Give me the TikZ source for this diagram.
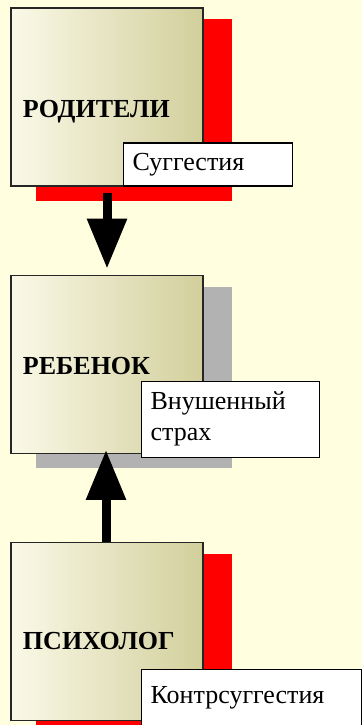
\documentclass[tikz,border=0pt]{standalone}
\usepackage{fontspec}
\setmainfont{Liberation Serif}
\usepackage{tikz}
\usetikzlibrary{calc}
\usetikzlibrary{positioning}
\usetikzlibrary{arrows.meta}
\usetikzlibrary{backgrounds}

\definecolor{paper}{RGB}{255,255,224}
\definecolor{cream}{RGB}{250,249,231}
\definecolor{olive}{RGB}{210,207,156}
\definecolor{shadowgray}{RGB}{178,178,178}

\tikzset{
	actor/.style={draw=black!85,line width=1.3pt,minimum width=192pt,minimum height=178pt,
		inner xsep=12pt,text width=168pt,align=left,left color=cream,right color=olive,
		font=\fontsize{26}{31}\selectfont\bfseries},
	note/.style={draw=black,line width=1.3pt,fill=white,inner xsep=9pt,inner ysep=0pt,
		align=left,font=\fontsize{26}{31}\selectfont,anchor=south west},
	bigarrow/.style={line width=9pt,-{Triangle[width=38pt,length=50pt]}}
}

\begin{document}
\begin{tikzpicture}[x=1pt,y=-1pt]
		\useasboundingbox (0,0) rectangle (362,725);
		%print the three boxes
		\node[actor,text height=40pt,text depth=0pt] (parents) at (107,97) {РОДИТЕЛИ};
		\node[actor,below=88pt of parents,text height=20pt,text depth=0pt] (child) {РЕБЕНОК};
		\node[actor,below=88pt of child,text height=36pt,text depth=0pt] (psych) {ПСИХОЛОГ};
		%print shadows behind the boxes
		\begin{scope}[on background layer]
			\fill[paper] (0,0) rectangle (362,725);
			\fill[red] ($(parents.north west)+(26,12)$) rectangle ($(parents.south east)+(28,14)$);
			\fill[shadowgray] ($(child.north west)+(26,12)$) rectangle ($(child.south east)+(28,14)$);
			\fill[red] ($(psych.north west)+(26,12)$) rectangle ($(psych.south east)+(28,14)$);
		\end{scope}
		%print the notes
		\node[note,text width=151pt,minimum height=43pt] (suggestion) at ($(parents.south)+(16,0)$) {Суггестия};
		\node[note,text width=160pt,minimum height=76pt] (fear) at ($(child.south)+(34,4)$) {Внушенный\\страх};
		\node[note,text width=202pt,minimum height=56pt] (counter) at ($(psych.south)+(34,5)$) {Контрсуггестия};
		%print arrows
		\draw[bigarrow,shorten >=6pt] ($(parents.south)+(0,6)$) -- (child.north);
		\draw[bigarrow,shorten >=-4pt] ($(psych.north)+(-1,0)$) -- ($(child.south)+(-1,0)$);
	\end{tikzpicture}
\end{document}
